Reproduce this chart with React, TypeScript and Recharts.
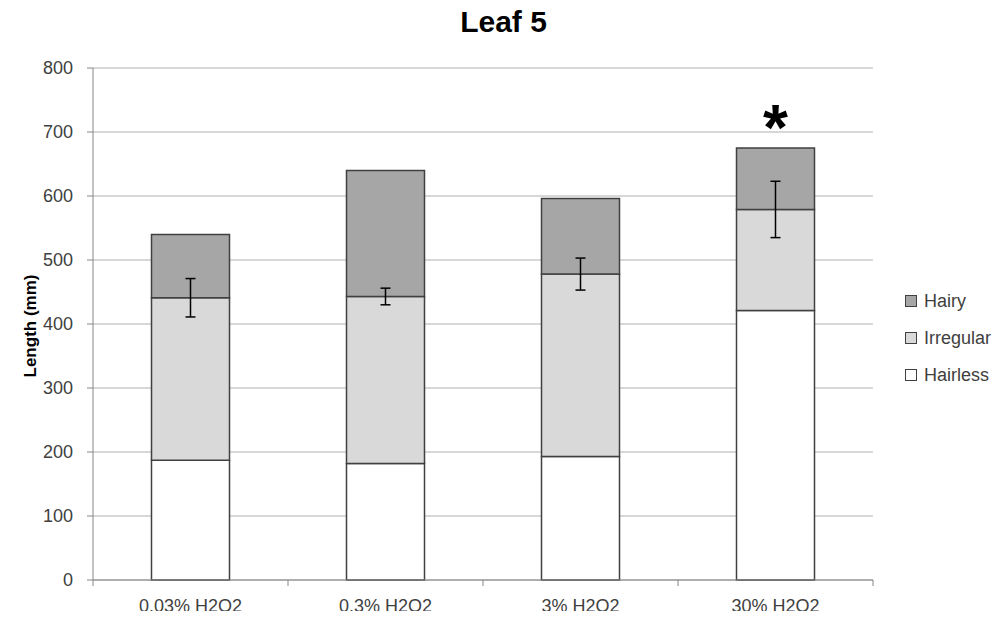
import { BarChart, Bar, XAxis, YAxis, CartesianGrid, ErrorBar, LabelList } from 'recharts';

const categories = ['0.03% H2O2', '0.3% H2O2', '3% H2O2', '30% H2O2'];
const hairless = [187, 182, 193, 421];
const irregular = [254, 261, 285, 158];
const hairy = [99, 197, 118, 96];
const irregularErr = [30, 13, 25, 44];
const marks = ['', '', '', '*'];
const yTicks = [0, 100, 200, 300, 400, 500, 600, 700, 800];

const SERIES = [
  { key: 'hairy', name: 'Hairy', fill: '#a6a6a6' },
  { key: 'irregular', name: 'Irregular', fill: '#d9d9d9' },
  { key: 'hairless', name: 'Hairless', fill: '#ffffff' },
];

const data = categories.map((name, i) => ({
  name,
  hairless: hairless[i],
  irregular: irregular[i],
  hairy: hairy[i],
  err: irregularErr[i],
  mark: marks[i],
}));

const FONT = '"Liberation Sans", Arial, sans-serif';
const AXIS = '#868686';
const TEXT = '#404040';

function CategoryTick(props: any) {
  const { x, y, payload, index, visibleTicksCount } = props;
  const half = payload.offset ?? 97.5;
  return (
    <g>
      <line x1={x - half} y1={y} x2={x - half} y2={y + 6} stroke={AXIS} />
      {index === visibleTicksCount - 1 && (
        <line x1={x + half} y1={y} x2={x + half} y2={y + 6} stroke={AXIS} />
      )}
      <text x={x} y={y + 26} textAnchor="middle" dominantBaseline="central" fontSize={18} fill={TEXT}>
        {payload.value}
      </text>
    </g>
  );
}

function YTitle(props: any) {
  const { viewBox } = props;
  const cx = 30;
  const cy = viewBox.y + viewBox.height / 2 + 2;
  return (
    <text
      x={cx}
      y={cy}
      transform={`rotate(-90, ${cx}, ${cy})`}
      textAnchor="middle"
      dominantBaseline="central"
      fontSize={17}
      fontWeight="bold"
      fill="#000"
    >
      Length (mm)
    </text>
  );
}

export default function App() {
  return (
    <div style={{ position: 'relative', width: 1007, height: 619, margin: -8, fontFamily: FONT }}>
      <div
        style={{
          position: 'absolute',
          top: 7,
          left: 0,
          width: 1007,
          textAlign: 'center',
          fontSize: 30,
          fontWeight: 'bold',
          lineHeight: '30px',
        }}
      >
        Leaf 5
      </div>
      <BarChart
        width={1007}
        height={619}
        data={data}
        margin={{ top: 68, right: 134, bottom: 9, left: 0 }}
        barCategoryGap="30%"
        style={{ fontFamily: FONT }}
      >
        <CartesianGrid vertical={false} stroke="#b0b0b0" />
        <XAxis
          dataKey="name"
          height={30}
          tickLine={false}
          tickSize={0}
          tickMargin={0}
          axisLine={{ stroke: AXIS }}
          tick={<CategoryTick />}
          interval={0}
        />
        <YAxis
          width={93}
          domain={[0, 800]}
          ticks={yTicks}
          tickSize={6}
          tickMargin={14}
          axisLine={{ stroke: AXIS }}
          tickLine={{ stroke: AXIS }}
          tick={{ fontSize: 18, fill: TEXT }}
          label={<YTitle />}
        />
        <Bar dataKey="hairless" stackId="a" fill={SERIES[2].fill} stroke="#404040" strokeWidth={1.5} isAnimationActive={false} />
        <Bar dataKey="irregular" stackId="a" fill={SERIES[1].fill} stroke="#404040" strokeWidth={1.5} isAnimationActive={false}>
          <ErrorBar dataKey="err" width={5} stroke="#000" strokeWidth={1.5} direction="y" />
        </Bar>
        <Bar dataKey="hairy" stackId="a" fill={SERIES[0].fill} stroke="#404040" strokeWidth={1.5} isAnimationActive={false}>
          <LabelList dataKey="mark" position="top" offset={-2} fontSize={64} fontWeight="bold" fill="#000" />
        </Bar>
      </BarChart>
      <div style={{ position: 'absolute', left: 905, top: 282.5, fontSize: 18, color: TEXT }}>
        {SERIES.map((s) => (
          <div key={s.key} style={{ height: 37, lineHeight: '37px', display: 'flex', alignItems: 'center' }}>
            <span
              style={{
                display: 'inline-block',
                width: 10,
                height: 10,
                background: s.fill,
                border: '1px solid #404040',
                marginRight: 7,
              }}
            />
            {s.name}
          </div>
        ))}
      </div>
    </div>
  );
}
